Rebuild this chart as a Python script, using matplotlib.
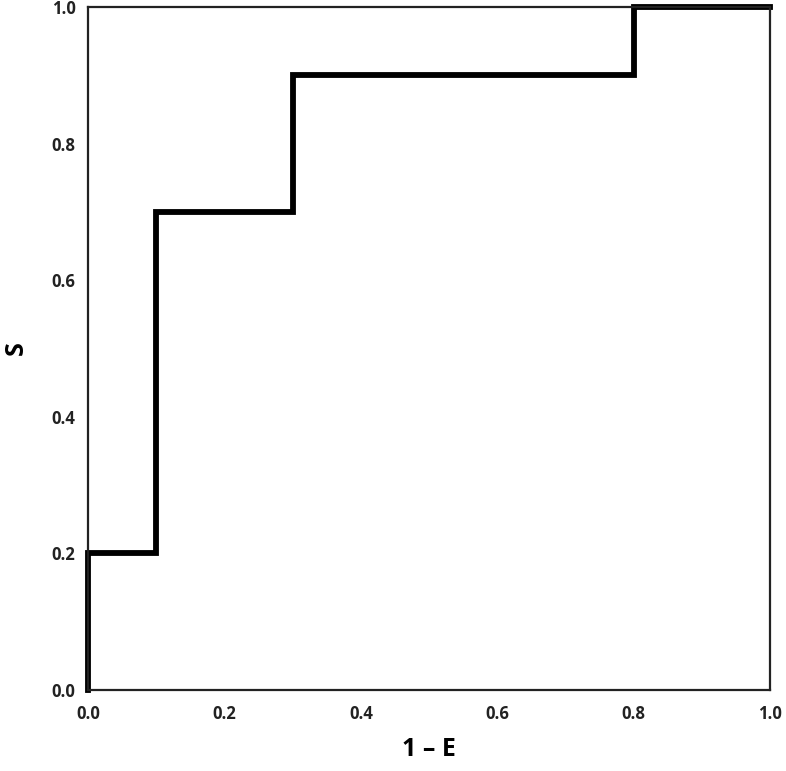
import matplotlib
matplotlib.use('Agg')
import matplotlib.pyplot as plt

# ROC-like step curve points
fpr = [0.0, 0.0, 0.1, 0.1, 0.3, 0.3, 0.8, 0.8, 1.0]
sens = [0.0, 0.2, 0.2, 0.7, 0.7, 0.9, 0.9, 1.0, 1.0]
ticks = [0.0, 0.2, 0.4, 0.6, 0.8, 1.0]

plt.rcParams['font.family'] = ['Open Sans', 'DejaVu Sans']

fig = plt.figure(figsize=(7.86, 7.71), dpi=100)
ax = fig.add_axes([0.112, 0.105, 0.868, 0.886])

ax.plot(fpr, sens, color='black', linewidth=4.2, solid_joinstyle='miter', clip_on=False)

ax.set_xlim(0, 1)
ax.set_ylim(0, 1)
ax.set_xticks(ticks)
ax.set_yticks(ticks)
ax.set_xticklabels(['%.1f' % t for t in ticks], fontsize=12, fontweight='bold')
ax.set_yticklabels(['%.1f' % t for t in ticks], fontsize=12, fontweight='bold')
ax.tick_params(length=0, colors='#222222')
ax.tick_params(axis='x', pad=11)
ax.tick_params(axis='y', pad=9)

for s in ax.spines.values():
    s.set_linewidth(1.6)
    s.set_color('#222222')

ax.set_xlabel('1 \u2013 E', fontsize=18, fontweight='bold', labelpad=10)
ax.set_ylabel('S', fontsize=18, fontweight='bold', labelpad=16)

fig.savefig('out.png', dpi=100)
